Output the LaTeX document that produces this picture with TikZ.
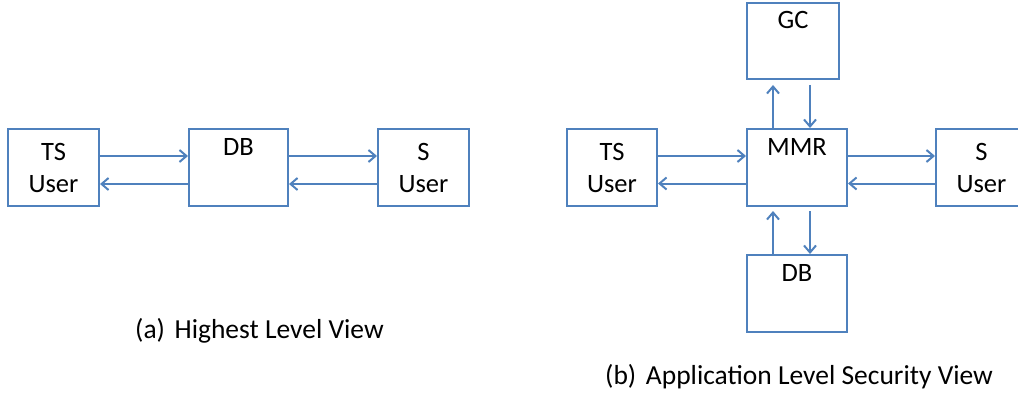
\documentclass[tikz,border=0pt]{standalone}
\usepackage{fontspec}
\setmainfont{Carlito}
\usetikzlibrary{arrows.meta,calc}
\definecolor{boxblue}{HTML}{4F81BD}
\tikzset{
  blk/.style={draw=boxblue, line width=2pt, inner sep=0pt, align=center,
    font=\fontsize{26.5}{32}\selectfont, text=black},
  arr/.style={draw=boxblue, line width=2pt,
    -{Straight Barb[length=7pt,width=12pt,line width=2pt]}},
  captxt/.style={font=\fontsize{27.5}{30}\selectfont, anchor=base west, inner sep=0pt}
}
\begin{document}
\begin{tikzpicture}[x=1pt,y=-1pt]
\useasboundingbox (0,0) rectangle (1018,396);
% (a)
\node[blk, minimum width=91pt, minimum height=77pt] (ts1) at (53.5,167.5) {TS\\User};
\node[blk, minimum width=99pt, minimum height=77pt] (db1) at (238.5,167.5) {DB\\\strut};
\node[blk, minimum width=91pt, minimum height=77pt] (s1) at (423.5,167.5) {S\\User};
\draw[arr] ([yshift=11.5pt]ts1.east) -- ([yshift=11.5pt]db1.west);
\draw[arr] ([yshift=-16.5pt]db1.west) -- ([yshift=-16.5pt]ts1.east);
\draw[arr] ([yshift=11.5pt]db1.east) -- ([yshift=11.5pt]s1.west);
\draw[arr] ([yshift=-16.5pt]s1.west) -- ([yshift=-16.5pt]db1.east);
\node[captxt] (capa) at (135,338) {(a)\hspace{0.35em}Highest Level View};
% (b)
\node[blk, minimum width=90pt, minimum height=77pt] (ts2) at (612,167.5) {TS\\User};
\node[blk, minimum width=100pt, minimum height=77pt] (mmr) at (797,167.5) {MMR\\\strut};
\node[blk, minimum width=91pt, minimum height=77pt] (s2) at (981.5,167.5) {S\\User};
\node[blk, minimum width=92pt, minimum height=76pt] (gc) at (793,41) {GC\\\strut};
\node[blk, minimum width=100pt, minimum height=77pt] (db2) at (797,293.5) {DB\\\strut};
\draw[arr] ([yshift=11.5pt]ts2.east) -- ([yshift=11.5pt]mmr.west);
\draw[arr] ([yshift=-16pt]mmr.west) -- ([yshift=-16pt]ts2.east);
\draw[arr] ([yshift=11.5pt]mmr.east) -- ([yshift=11.5pt]s2.west);
\draw[arr] ([yshift=-16pt]s2.west) -- ([yshift=-16pt]mmr.east);
\draw[arr] ($(mmr.north)+(-24,0)$) -- ($(gc.south)+(-20,5)$);
\draw[arr] ($(gc.south)+(17,5)$) -- ($(mmr.north)+(13,0)$);
\draw[arr] ($(db2.north)+(-24,0)$) -- ($(mmr.south)+(-24,4)$);
\draw[arr] ($(mmr.south)+(13,4)$) -- ($(db2.north)+(13,0)$);
\node[captxt] (capb) at (605,384) {(b)\hspace{0.35em}Application Level Security View};
\end{tikzpicture}
\end{document}
